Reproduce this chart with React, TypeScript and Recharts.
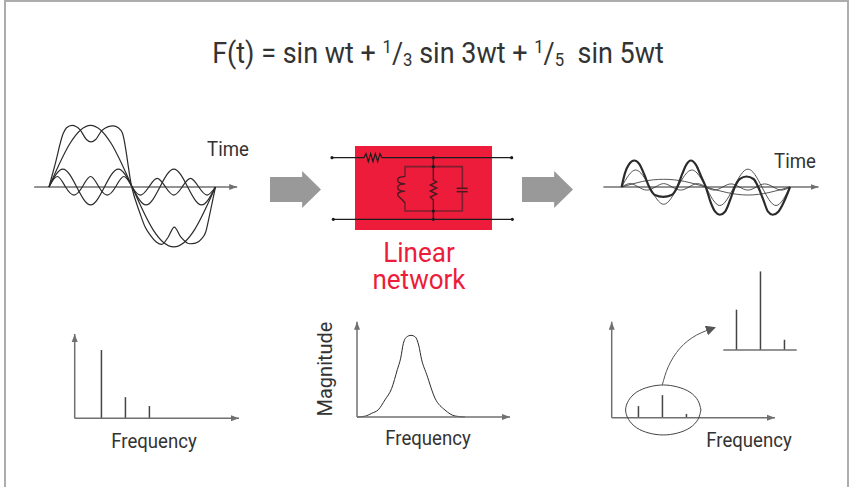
import React from 'react';
import { ComposedChart, Line, Bar, XAxis, YAxis, ReferenceArea } from 'recharts';

// input waveform, degrees vs amplitude (fundamental peak = 1)
const inFundT = [0, 45, 90, 135, 180, 225, 270, 315, 360];
const inFundV = [0, 0.7, 1, 0.7, 0, -0.69, -0.97, -0.69, 0];
const inThirdT = [0, 30, 60, 90, 120, 150, 180, 210, 240, 270, 300, 330, 360];
const inThirdV = [0, 0.29, 0, -0.29, 0, 0.29, 0, -0.29, 0, 0.29, 0, -0.29, 0];
const inFifthT = [0, 18, 36, 54, 72, 90, 108, 126, 144, 162, 180, 198, 216, 234, 252, 270, 288, 306, 324, 342, 360];
const inFifthV = [0, 0.17, 0, -0.13, 0, 0.17, 0, -0.13, 0, 0.17, 0, -0.13, 0, 0.14, 0, -0.13, 0, 0.14, 0, -0.13, 0];
const inSumT = [0, 13, 31, 38, 50, 67, 81, 91, 101, 115, 139, 150, 159, 179, 197, 208, 219, 232, 244, 258, 271, 285, 304, 317, 330, 339, 348, 360];
const inSumV = [0, 0.36, 0.87, 0.96, 1, 0.93, 0.77, 0.73, 0.77, 0.92, 0.99, 0.96, 0.87, 0, -0.43, -0.65, -0.78, -0.89, -0.93, -0.81, -0.65, -0.81, -0.92, -0.91, -0.84, -0.73, -0.43, 0];

// filtered waveform, same units
const outFundV = [0, 0.09, 0.125, 0.09, 0, -0.09, -0.13, -0.09, 0];
const outThirdV = [0, 0.276, 0, -0.28, 0, 0.276, 0, -0.3, 0, 0.29, 0, -0.3, 0];
const outFifthV = [0, 0.055, 0, -0.05, 0, 0.055, 0, -0.05, 0, 0.055, 0, -0.05, 0, 0.05, 0, -0.05, 0, 0.05, 0, -0.05, 0];
const outSumT = [0, 7, 16, 27, 38, 49, 59, 71, 89, 107, 119, 130, 139, 148, 159, 170, 180, 190, 200, 210, 221, 232, 242, 253, 267, 282, 292, 303, 313, 323, 335, 347, 360];
const outSumV = [0, 0.22, 0.37, 0.43, 0.37, 0.19, 0, -0.13, -0.16, -0.13, 0, 0.22, 0.37, 0.43, 0.36, 0.17, 0, -0.24, -0.4, -0.45, -0.4, -0.21, 0, 0.13, 0.17, 0.13, 0, -0.21, -0.4, -0.45, -0.4, -0.24, 0];

// spectra
const harmonics = [1, 3, 5];
const inMagnitudes = [1, 0.31, 0.18];
const outMagnitudes = [0.17, 0.33, 0.055];
const zoomMagnitudes = [0.59, 1.15, 0.15];

// filter response
const respF = [0, 0.67, 1.22, 1.78, 2.33, 2.89, 3.36, 3.64, 3.86, 4.14, 4.5, 4.86, 5.14, 5.39, 5.81, 6.5, 7.33, 8.17, 9];
const respM = [0, 0.01, 0.045, 0.09, 0.21, 0.35, 0.58, 0.72, 0.9, 0.98, 1, 0.98, 0.88, 0.7, 0.52, 0.23, 0.086, 0.012, 0];

// ring round the low part of the output spectrum, and the callout from it
const ringF = [6.19, 5.94, 5.28, 4.24, 3.05, 1.86, 0.82, 0.16, -0.09, 0.16, 0.82, 1.86, 3.05, 4.24, 5.28, 5.94, 6.19];
const ringM = [0.113, 0.252, 0.373, 0.45, 0.479, 0.45, 0.373, 0.252, 0.113, -0.026, -0.147, -0.225, -0.253, -0.225, -0.147, -0.026, 0.113];
const calloutF = [2.97, 3.47, 4.44, 5.83, 7.36];
const calloutM = [0.48, 0.747, 1.016, 1.21, 1.318];

// network schematic, on a 630 x 480 grid
const wireTop = [[36, 68], [132, 68], [138, 56], [145, 80], [152, 56], [159, 80], [166, 56], [173, 80], [180, 56], [186, 68], [575, 68]];
const wireBottom = [[40, 253], [577, 253]];
const branchBox = [[340, 95], [255, 95], [255, 125]];
const branchBoxLow = [[255, 203], [255, 228], [427, 228], [427, 170]];
const branchRight = [[340, 95], [427, 95], [427, 160]];
const stem = [[340, 68], [340, 135], [350, 141], [331, 150], [350, 159], [331, 168], [350, 177], [331, 186], [340, 195], [340, 253]];
const coil = [[255, 125], [238, 127], [233, 136], [240, 144], [254, 147], [240, 149], [233, 158], [240, 166], [254, 169], [240, 171], [233, 180], [240, 188], [255, 203]];
const plateA = [[410, 160], [443, 160]];
const plateB = [[410, 170], [443, 170]];
const nodes = [[36, 68], [575, 68], [40, 253], [577, 253], [340, 68], [340, 95], [340, 228], [340, 253]];

const INK = '#2b2b2b';
const AXIS = '#707070';
const RED = '#ed1c3a';
const DARK_RED = '#7d1f2e';
const FONT = 'Roboto, sans-serif';

const zip = (xs: number[], ys: number[]) => xs.map((x, i) => ({ x, y: ys[i] }));
const grid = (pts: number[][]) => pts.map(([x, y]) => ({ x, y }));
const stems = (ys: number[]) => harmonics.map((x, i) => ({ x, y: ys[i] }));

const Label = ({ x, y, size = 20, color = '#333', rotate = 0, squeeze = 0.93, leading = 1, children }: any) => (
  <div
    style={{
      position: 'absolute',
      left: x,
      top: y,
      transform: `translate(-50%, -50%) rotate(${rotate}deg) scaleX(${squeeze})`,
      fontFamily: FONT,
      fontSize: size,
      lineHeight: leading,
      color,
      textAlign: 'center',
      whiteSpace: 'nowrap',
    }}
  >
    {children}
  </div>
);

const Frac = ({ top, bottom }: { top: string; bottom: string }) => (
  <span>
    <span style={{ fontSize: 18, verticalAlign: 10 }}>{top}</span>
    <span>/</span>
    <span style={{ fontSize: 18, verticalAlign: -3 }}>{bottom}</span>
  </span>
);

const BlockArrow = ({ x, y }: { x: number; y: number }) => (
  <div
    style={{
      position: 'absolute',
      left: x,
      top: y,
      width: 51,
      height: 37,
      background: '#999999',
      clipPath: 'polygon(0 16%, 63% 16%, 63% 0, 100% 50%, 63% 100%, 63% 84%, 0 84%)',
    }}
  />
);

const Panel = ({ left, top, width, height, margin, data, xDomain, yDomain, yReversed, xAxis, yAxis, children }: any) => (
  <div style={{ position: 'absolute', left, top }}>
    <ComposedChart width={width} height={height} data={data} margin={margin ?? { top: 0, right: 0, bottom: 0, left: 0 }}>
      <XAxis
        type="number"
        dataKey="x"
        domain={xDomain}
        hide={!xAxis}
        height={1}
        tick={false}
        tickLine={false}
        axisLine={xAxis}
      />
      <YAxis
        type="number"
        domain={yDomain}
        reversed={yReversed}
        hide={!yAxis}
        width={1}
        tick={false}
        tickLine={false}
        axisLine={yAxis}
      />
      {children}
    </ComposedChart>
  </div>
);

const curve = (key: string, data: any[], type: any, width = 1, color = INK, extra: any = {}) => (
  <Line
    key={key}
    data={data}
    dataKey="y"
    type={type}
    stroke={color}
    strokeWidth={width}
    dot={false}
    isAnimationActive={false}
    {...extra}
  />
);

const xLine = { stroke: AXIS, strokeWidth: 1.5, markerEnd: 'url(#arrowHead)' };
const yLine = { stroke: AXIS, strokeWidth: 1.5, markerStart: 'url(#arrowHead)' };

const stemBar = <Bar dataKey="y" fill="#444" barSize={1.5} isAnimationActive={false} />;

export default function App() {
  return (
    <div style={{ position: 'absolute', left: 0, top: 0, width: 849, height: 487, overflow: 'hidden', background: '#fff' }}>
      <svg width={0} height={0} style={{ position: 'absolute' }}>
        <defs>
          <marker id="arrowHead" markerUnits="userSpaceOnUse" markerWidth={10} markerHeight={8} refX={8} refY={4} orient="auto-start-reverse">
            <path d="M0,1 L8,4 L0,7 Z" fill={AXIS} />
          </marker>
          <marker id="calloutHead" markerUnits="userSpaceOnUse" markerWidth={12} markerHeight={10} refX={9} refY={5} orient="auto">
            <path d="M0,0 L10,5 L0,10 Z" fill="#555" />
          </marker>
        </defs>
      </svg>
      <div style={{ position: 'absolute', left: 4, top: 0, width: 841, height: 500, border: '2px solid #adadad' }} />

      <Label x={438} y={53} size={29}>
        F(t) = sin wt + <Frac top="1" bottom="3" /> sin 3wt + <Frac top="1" bottom="5" />&nbsp; sin 5wt
      </Label>

      {/* input waveform */}
      <Panel left={30} top={110} width={240} height={150} xDomain={[-41, 478]} yDomain={[-1.183, 1.248]}>
        {curve('inAxis', zip([-32, 407], [0, 0]), 'linear', 1.5, AXIS, { markerEnd: 'url(#arrowHead)' })}
        {curve('inFund', zip(inFundT, inFundV), 'natural', 1.2)}
        {curve('inThird', zip(inThirdT, inThirdV), 'natural', 1.2)}
        {curve('inFifth', zip(inFifthT, inFifthV), 'natural', 1.2)}
        {curve('inSum', zip(inSumT, inSumV), 'monotone', 1.2)}
      </Panel>
      <Label x={228} y={149}>Time</Label>

      <BlockArrow x={270} y={171} />

      {/* linear network */}
      <Panel left={320} top={135} width={210} height={160} xDomain={[0, 630]} yDomain={[0, 480]} yReversed>
        <ReferenceArea x1={105} x2={516} y1={33} y2={285} fill={RED} fillOpacity={1} stroke="none" />
        {curve('branchBox', grid(branchBox), 'linear', 1.6, DARK_RED)}
        {curve('branchBoxLow', grid(branchBoxLow), 'linear', 1.6, DARK_RED)}
        {curve('branchRight', grid(branchRight), 'linear', 1.6, DARK_RED)}
        {curve('stem', grid(stem), 'linear', 1.4, '#4a1a22')}
        {curve('coil', grid(coil), 'natural', 1.4, '#4a1a22')}
        {curve('plateA', grid(plateA), 'linear', 1.5, '#4a1a22')}
        {curve('plateB', grid(plateB), 'linear', 1.5, '#4a1a22')}
        {curve('wireTop', grid(wireTop), 'linear', 1.2, '#1c1c1c')}
        {curve('wireBottom', grid(wireBottom), 'linear', 1.2, '#1c1c1c')}
        {curve('nodes', grid(nodes), 'linear', 0, 'none', { dot: { r: 1.6, fill: '#1c1c1c', stroke: 'none' } })}
      </Panel>
      <Label x={419} y={266} size={28} color={RED} leading="27px">
        Linear
        <br />
        network
      </Label>

      <BlockArrow x={522} y={171} />

      {/* filtered waveform */}
      <Panel left={590} top={130} width={240} height={110} xDomain={[-67.6, 445.5]} yDomain={[-0.859, 0.924]}>
        {curve('outAxis', zip([-39, 421], [0, 0]), 'linear', 1.5, AXIS, { markerEnd: 'url(#arrowHead)' })}
        {curve('outFund', zip(inFundT, outFundV), 'natural', 0.8)}
        {curve('outThird', zip(inThirdT, outThirdV), 'natural', 0.8)}
        {curve('outFifth', zip(inFifthT, outFifthV), 'natural', 0.8)}
        {curve('outSum', zip(outSumT, outSumV), 'monotone', 2.2)}
      </Panel>
      <Label x={795} y={161}>Time</Label>

      {/* input spectrum */}
      <Panel
        left={60} top={320} width={195} height={110} data={stems(inMagnitudes)}
        margin={{ top: 14, right: 16, bottom: 10.7, left: 13.7 }}
        xDomain={[-1.25, 12.45]} yDomain={[0, 1.234]} xAxis={xLine} yAxis={yLine}
      >
        {stemBar}
      </Panel>
      <Label x={154} y={441}>Frequency</Label>

      {/* filter response */}
      <Panel
        left={347} top={310} width={173} height={117} data={stems(inMagnitudes)}
        margin={{ top: 11.7, right: 10, bottom: 9, left: 9 }}
        xDomain={[0, 12.75]} yDomain={[0, 1.167]} xAxis={xLine} yAxis={yLine}
      >
        {curve('resp', zip(respF, respM), 'monotone')}
      </Panel>
      <Label x={325} y={369} rotate={-90} squeeze={1}>Magnitude</Label>
      <Label x={428} y={438}>Frequency</Label>

      {/* output spectrum */}
      <Panel
        left={600} top={310} width={185} height={135} data={stems(outMagnitudes)}
        margin={{ top: 11.7, right: 10, bottom: 26.3, left: 10.7 }}
        xDomain={[-1.25, 12.36]} yDomain={[0, 1.405]} xAxis={xLine} yAxis={yLine}
      >
        {stemBar}
      </Panel>
      {/* ring and callout share the spectrum scale but run past its axes */}
      <Panel left={600} top={310} width={185} height={135} xDomain={[-2.225, 13.2]} yDomain={[-0.4, 1.577]}>
        {curve('ring', zip(ringF, ringM), 'natural', 1, '#444')}
        {curve('callout', zip(calloutF, calloutM), 'natural', 1, '#555', { markerEnd: 'url(#calloutHead)' })}
      </Panel>
      <Panel
        left={715} top={260} width={90} height={95} data={stems(zoomMagnitudes)}
        margin={{ top: 5, right: 8.3, bottom: 4, left: 8.3 }}
        xDomain={[-0.12, 6]} yDomain={[0, 1.244]} xAxis={{ stroke: AXIS, strokeWidth: 1.5 }}
      >
        {stemBar}
      </Panel>
      <Label x={749} y={440}>Frequency</Label>
    </div>
  );
}
